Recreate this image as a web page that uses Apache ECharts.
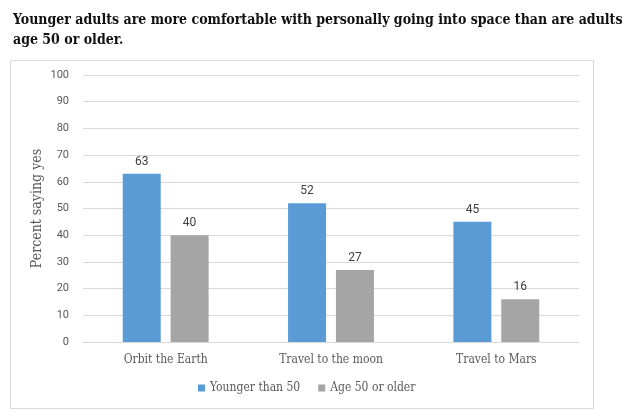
<!DOCTYPE html>
<html><head><meta charset="utf-8">
<script src="https://cdn.jsdelivr.net/npm/echarts@6/dist/echarts.min.js"></script>
<style>html,body{margin:0;padding:0;background:#fff}#c{width:640px;height:420px}</style>
</head><body><div id="c"></div>
<script>
var titleText = "Younger adults are more comfortable with personally going into space than are adults\nage 50 or older.";
var categories = ["Orbit the Earth", "Travel to the moon", "Travel to Mars"];
var seriesNames = ["Younger than 50", "Age 50 or older"];
var younger = [63, 52, 45];
var older = [40, 27, 16];
var yTicks = {min: 0, max: 100, interval: 10};
var yName = "Percent saying yes";

var chart = echarts.init(document.getElementById('c'), null, {renderer: 'canvas'});
var serif = "'DejaVu Serif Condensed','DejaVu Serif',serif";
var labelStyle = {show: true, position: 'top', color: '#404040', fontSize: 12, fontFamily: "Roboto, 'Noto Sans', sans-serif", distance: 6};
chart.setOption({
  animation: false,
  title: {text: titleText, left: 8, top: 5, textStyle: {fontFamily: serif, fontWeight: 'bold', fontSize: 14, color: '#111', lineHeight: 20}},
  graphic: [{type: 'rect', shape: {x: 10.5, y: 60.5, width: 583, height: 348}, style: {fill: 'none', stroke: '#d9d9d9', lineWidth: 1}, z: -1}],
  legend: {data: seriesNames, bottom: 21, left: 193, itemWidth: 7, itemHeight: 7, itemGap: 18, icon: 'rect',
    textStyle: {fontFamily: serif, fontSize: 12, color: '#595959'}},
  grid: {left: 83, right: 61, top: 75, bottom: 78},
  xAxis: {type: 'category', data: categories, axisTick: {show: false},
    axisLine: {lineStyle: {color: '#d9d9d9'}},
    axisLabel: {fontFamily: serif, fontSize: 12, color: '#595959', margin: 12}},
  yAxis: {type: 'value', min: yTicks.min, max: yTicks.max, interval: yTicks.interval,
    name: yName, nameLocation: 'middle', nameGap: 39, nameRotate: 90, nameMoveOverlap: false,
    nameTextStyle: {fontFamily: serif, fontSize: 14, color: '#595959'},
    axisLine: {show: false}, axisTick: {show: false},
    axisLabel: {fontFamily: "Roboto, 'Noto Sans', sans-serif", fontSize: 11, color: '#595959', margin: 14},
    splitLine: {lineStyle: {color: '#d9d9d9'}}},
  series: [
    {name: seriesNames[0], type: 'bar', data: younger, barWidth: 38, barGap: '26%', itemStyle: {color: '#5B9BD5'}, label: labelStyle},
    {name: seriesNames[1], type: 'bar', data: older, barWidth: 38, itemStyle: {color: '#A5A5A5'}, label: labelStyle}
  ]
});
</script></body></html>
